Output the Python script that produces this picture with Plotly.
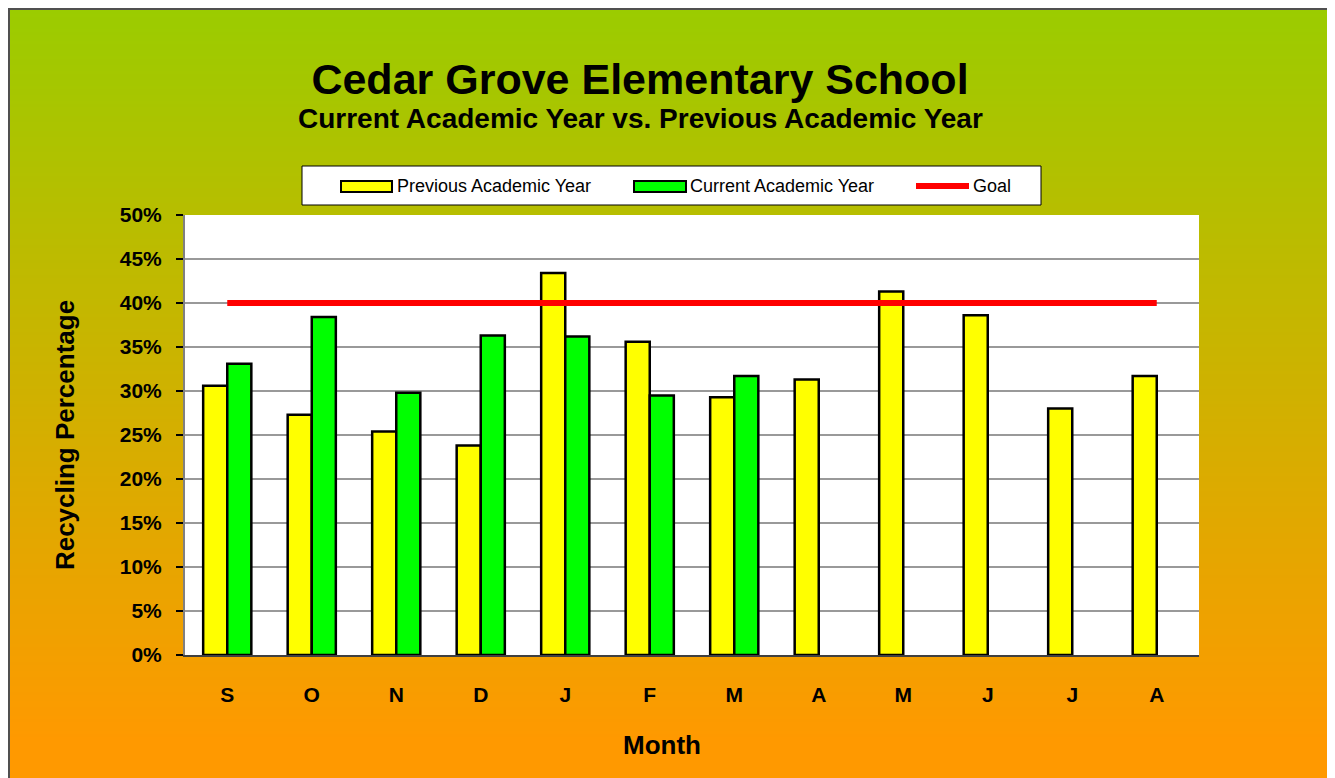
import plotly.graph_objects as go

# ---------------- data ----------------
months = ["S", "O", "N", "D", "J", "F", "M", "A", "M", "J", "J", "A"]
previous_year = [0.306, 0.273, 0.254, 0.238, 0.434, 0.356, 0.293, 0.313, 0.413, 0.386, 0.280, 0.317]
current_year = [0.331, 0.384, 0.298, 0.363, 0.362, 0.295, 0.317, None, None, None, None, None]
goal = [0.40] * len(months)
y_ticks = [0.0, 0.05, 0.10, 0.15, 0.20, 0.25, 0.30, 0.35, 0.40, 0.45, 0.50]

OFF = 8                      # page body margin
SW, SH = 1335, 778           # screen size
W, H = SW - OFF, SH - OFF    # figure size
L, R, T, B = 185, 1199, 215, 655  # plot area in screen pixels

def px(x):
    return (x - L) / (R - L)

def py(y):
    return (B - y) / (B - T)

xs = list(range(len(months)))
FONT = "Liberation Sans, Arial, sans-serif"

fig = go.Figure()
fig.add_trace(go.Bar(x=xs, y=previous_year, name="Previous Academic Year",
                     marker=dict(color="#FFFF00", line=dict(color="black", width=2.5))))
fig.add_trace(go.Bar(x=xs, y=current_year, name="Current Academic Year",
                     marker=dict(color="#00FF00", line=dict(color="black", width=2.5))))
fig.add_trace(go.Scatter(x=xs, y=goal, name="Goal", mode="lines",
                         line=dict(color="#FF0000", width=6)))

shapes = []
# gradient background (green -> orange)
top_c = (155, 204, 0)
bot_c = (255, 153, 0)
y0g, y1g = 8, 740
step = 3
y = OFF
while y < SH:
    f = min(max((y - y0g) / (y1g - y0g), 0), 1)
    c = tuple(round(top_c[i] + (bot_c[i] - top_c[i]) * f) for i in range(3))
    shapes.append(dict(type="rect", xref="paper", yref="paper",
                       x0=px(OFF), x1=px(SW + 5), y0=py(y), y1=py(min(y + step + 1, SH + 5)),
                       fillcolor="rgb(%d,%d,%d)" % c, line=dict(width=0), layer="below"))
    y += step
# plot area white
shapes.append(dict(type="rect", xref="paper", yref="paper", x0=0, x1=1, y0=0, y1=1,
                   fillcolor="white", line=dict(width=0), layer="below"))
# chart border
shapes.append(dict(type="rect", xref="paper", yref="paper",
                   x0=px(OFF + 1), x1=px(1334), y0=py(OFF + 1), y1=py(SH + 20),
                   fillcolor="rgba(0,0,0,0)", line=dict(color="#505050", width=2), layer="above"))
# custom legend
shapes.append(dict(type="rect", xref="paper", yref="paper",
                   x0=px(302), x1=px(1041), y0=py(166), y1=py(205),
                   fillcolor="white", line=dict(color="black", width=1), layer="above"))
shapes.append(dict(type="rect", xref="paper", yref="paper",
                   x0=px(341), x1=px(392), y0=py(181), y1=py(192),
                   fillcolor="#FFFF00", line=dict(color="black", width=2), layer="above"))
shapes.append(dict(type="rect", xref="paper", yref="paper",
                   x0=px(634), x1=px(686), y0=py(181), y1=py(192),
                   fillcolor="#00FF00", line=dict(color="black", width=2), layer="above"))
shapes.append(dict(type="line", xref="paper", yref="paper",
                   x0=px(916), x1=px(969), y0=py(186), y1=py(186),
                   line=dict(color="#FF0000", width=6), layer="above"))

annotations = [
    dict(text="Current Academic Year vs. Previous Academic Year", xref="paper", yref="paper",
         x=px(640), y=py(119), xanchor="center", yanchor="middle", showarrow=False,
         font=dict(family=FONT, size=28, color="black", weight="bold")),
    dict(text="Month", xref="paper", yref="paper",
         x=px(662), y=py(745), xanchor="center", yanchor="middle", showarrow=False,
         font=dict(family=FONT, size=26, color="black", weight="bold")),
    dict(text="Previous Academic Year", xref="paper", yref="paper", x=px(395), y=py(186),
         xanchor="left", yanchor="middle", showarrow=False,
         font=dict(family=FONT, size=18, color="black")),
    dict(text="Current Academic Year", xref="paper", yref="paper", x=px(688), y=py(186),
         xanchor="left", yanchor="middle", showarrow=False,
         font=dict(family=FONT, size=18, color="black")),
    dict(text="Goal", xref="paper", yref="paper", x=px(971), y=py(186),
         xanchor="left", yanchor="middle", showarrow=False,
         font=dict(family=FONT, size=18, color="black")),
]

fig.update_layout(
    width=W, height=H,
    margin=dict(l=L - OFF, r=SW - R, t=T - OFF, b=SH - B, pad=0),
    paper_bgcolor="white", plot_bgcolor="white",
    showlegend=False,
    barmode="group", bargap=0.43, bargroupgap=0,
    title=dict(text="Cedar Grove Elementary School", x=(640 - OFF) / W, xanchor="center",
               y=1 - (79 - OFF) / H, yanchor="middle",
               font=dict(family=FONT, size=43, color="black", weight="bold")),
    shapes=shapes, annotations=annotations,
    font=dict(family=FONT, color="black"),
)
fig.update_xaxes(range=[-0.5, 11.5], tickvals=xs, ticktext=months, ticks="",
                 showline=True, linecolor="#404040", linewidth=2, showgrid=False,
                 tickfont=dict(family=FONT, size=21, color="black", weight="bold"),
                 ticklabelstandoff=20)
fig.update_yaxes(range=[0, 0.5], tickvals=y_ticks, tickformat=".0%",
                 ticks="outside", ticklen=7, tickcolor="black", tickwidth=1.5,
                 showline=True, linecolor="#808080", linewidth=2,
                 showgrid=True, gridcolor="#999999", gridwidth=2, zeroline=False,
                 tickfont=dict(family=FONT, size=21, color="black", weight="bold"),
                 ticklabelstandoff=10,
                 title=dict(text="Recycling Percentage", standoff=38,
                            font=dict(family=FONT, size=26, color="black", weight="bold")))

fig.write_html("out.html")
